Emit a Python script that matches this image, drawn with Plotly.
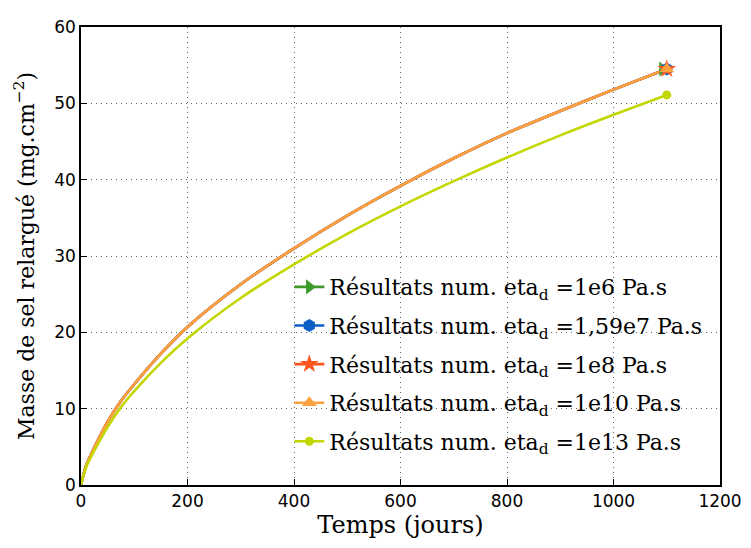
import plotly.graph_objects as go

# Data
t = [0, 10, 25, 50, 75, 100, 150, 200, 300, 400, 500, 600, 700, 800, 900, 1000, 1100]
m_1e6 = [0, 2.6, 4.9, 8.3, 11.0, 13.2, 17.2, 20.7, 26.3, 31.0, 35.3, 39.2, 42.8, 46.1, 49.0, 51.8, 54.5]
m_159e7 = [0, 2.6, 4.9, 8.3, 11.0, 13.2, 17.2, 20.7, 26.3, 31.0, 35.3, 39.2, 42.8, 46.1, 49.0, 51.8, 54.5]
m_1e8 = [0, 2.6, 4.9, 8.3, 11.0, 13.2, 17.2, 20.7, 26.3, 31.0, 35.3, 39.2, 42.8, 46.1, 49.0, 51.8, 54.5]
m_1e10 = [0, 2.6, 4.9, 8.3, 11.0, 13.2, 17.2, 20.7, 26.3, 31.0, 35.3, 39.2, 42.8, 46.1, 49.0, 51.8, 54.5]
m_1e13 = [0, 2.4, 4.5, 7.6, 10.2, 12.3, 16.0, 19.2, 24.5, 28.9, 32.9, 36.5, 39.8, 42.9, 45.8, 48.5, 51.1]

labels = ["1e6", "1,59e7", "1e8", "1e10", "1e13"]
series = [m_1e6, m_159e7, m_1e8, m_1e10, m_1e13]
end_t = [1092, 1100, 1100, 1100, 1100]
colors = ["#3f9a2c", "#0b5fc6", "#ff5520", "#ffa040", "#c4d600"]
symbols = ["triangle-right", "hexagon", "star", "triangle-up", "circle"]
msizes = [13, 13, 14, 13, 9]

fig = go.Figure()
for lab, ys, col in zip(labels, series, colors):
    fig.add_trace(go.Scatter(x=t, y=ys, mode="lines",
                             line=dict(color=col, width=2.6, shape="spline", smoothing=0.8),
                             showlegend=False, hoverinfo="skip"))
for i, (lab, ys, col, sym, ms) in enumerate(zip(labels, series, colors, symbols, msizes)):
    fig.add_trace(go.Scatter(x=[end_t[i]], y=[ys[-1]], mode="lines+markers",
                             line=dict(color=col, width=2.6),
                             marker=dict(symbol=sym, size=ms, color=col, line=dict(width=0)),
                             name="Résultats num. eta<sub>d</sub> =" + lab + " Pa.s",
                             legendgroup="g%d" % i))

axis_common = dict(showline=True, linecolor="black", linewidth=1.5, mirror=True,
                   ticks="inside", ticklen=6, tickcolor="black",
                   showgrid=True, gridcolor="#666666", griddash="1px,4px", gridwidth=1,
                   zeroline=False,
                   tickfont=dict(family="DejaVu Sans", size=17, color="black"))

fig.update_layout(
    width=743, height=540,
    margin=dict(l=73, r=24, t=9, b=63),
    paper_bgcolor="white", plot_bgcolor="white",
    xaxis=dict(range=[0, 1200], tickvals=[0, 200, 400, 600, 800, 1000, 1200],
               title=dict(text="Temps (jours)", font=dict(family="DejaVu Serif", size=24, color="black"),
                          standoff=6),
               **axis_common),
    yaxis=dict(range=[0, 60], tickvals=[0, 10, 20, 30, 40, 50, 60],
               title=dict(text="Masse de sel relargué (mg.cm<sup>−2</sup>)",
                          font=dict(family="DejaVu Serif", size=22, color="black"), standoff=14),
               **axis_common),
    legend=dict(x=0.326, y=0.478, xanchor="left", yanchor="top",
                bgcolor="rgba(0,0,0,0)", borderwidth=0,
                font=dict(family="DejaVu Serif", size=22, color="black"),
                tracegroupgap=7, itemwidth=30),
    showlegend=True,
)

fig.write_html("out.html")
